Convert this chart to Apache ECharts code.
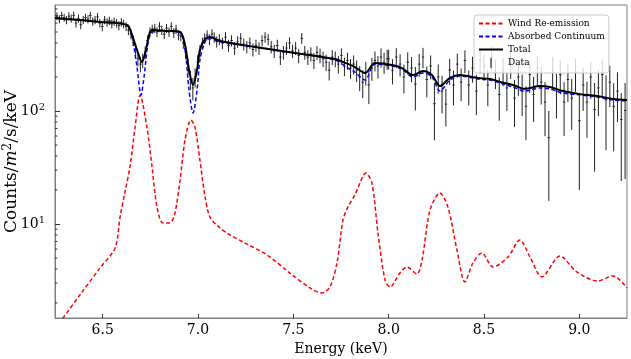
<!DOCTYPE html>
<html>
<head>
<meta charset="utf-8">
<script src="https://cdn.jsdelivr.net/npm/echarts@6/dist/echarts.min.js"></script>
<style>
html, body { margin: 0; padding: 0; background: #fff; }
#chart { width: 631px; height: 359px; }
</style>
</head>
<body>
<div id="chart"></div>
<script>
// tick values
var xTicks = [6.5, 7.0, 7.5, 8.0, 8.5, 9.0];
var yMinorTicks = [2, 3, 4, 5, 6, 7, 8, 9, 20, 30, 40, 50, 60, 70, 80, 90, 200, 300, 400, 500, 600, 700, 800];

// model curves [keV, counts/m2/s/keV]
var windCurve = [
    [6.25, 1.18], [6.292, 1.47], [6.381, 2.36], [6.486, 4.08], [6.565, 6.14], [6.591, 11.5], [6.617, 19.2],
    [6.643, 31.9], [6.670, 72.1], [6.696, 138], [6.732, 72], [6.759, 32], [6.785, 14.1], [6.816, 10.2],
    [6.853, 10.2], [6.879, 12.5], [6.906, 24.5], [6.932, 55.3], [6.963, 83.2], [6.984, 72], [7.010, 36.8],
    [7.037, 17.4], [7.063, 11.5], [7.115, 9.23], [7.168, 8.0], [7.236, 6.93], [7.362, 5.32], [7.482, 3.68],
    [7.587, 2.72], [7.650, 2.45], [7.692, 2.77], [7.729, 4.52], [7.760, 10.8], [7.786, 14.1], [7.823, 18.1],
    [7.881, 28.2], [7.912, 23.1], [7.944, 8.3], [7.981, 3.19], [8.007, 2.77], [8.059, 3.68], [8.096, 4.16],
    [8.148, 3.61], [8.175, 4.80], [8.217, 13.3], [8.269, 18.8], [8.311, 14.1], [8.358, 5.89], [8.400, 3.07],
    [8.442, 4.52], [8.489, 5.53], [8.547, 4.16], [8.626, 5.10], [8.688, 7.21], [8.741, 5.10], [8.804, 3.40],
    [8.898, 5.21], [8.987, 3.76], [9.097, 3.13], [9.176, 3.47], [9.250, 2.72]
];

var contCurve = [
    [6.25, 665], [6.381, 638], [6.486, 613], [6.628, 577], [6.654, 452], [6.680, 245], [6.701, 138],
    [6.717, 200], [6.738, 400], [6.759, 500], [6.827, 511], [6.906, 490], [6.932, 347], [6.953, 153],
    [6.974, 96], [6.995, 153], [7.010, 282], [7.037, 408], [7.063, 443], [7.115, 408], [7.335, 361],
    [7.509, 326], [7.718, 282], [7.786, 240], [7.823, 221], [7.876, 188], [7.928, 261], [8.017, 250],
    [8.070, 235], [8.127, 200], [8.180, 217], [8.227, 200], [8.269, 150], [8.321, 188], [8.374, 204],
    [8.468, 192], [8.531, 188], [8.584, 177], [8.652, 163], [8.715, 150], [8.793, 160], [8.846, 157],
    [8.914, 144], [9.003, 139], [9.092, 133], [9.176, 125], [9.250, 123]
];

var totalCurve = [
    [6.25, 665], [6.381, 638], [6.486, 613], [6.628, 577], [6.654, 471], [6.680, 347], [6.706, 272],
    [6.727, 347], [6.743, 471], [6.759, 521], [6.827, 511], [6.906, 500], [6.932, 384], [6.953, 231],
    [6.974, 170], [6.995, 231], [7.010, 347], [7.037, 433], [7.063, 452], [7.115, 416], [7.335, 361],
    [7.509, 326], [7.718, 288], [7.786, 261], [7.823, 245], [7.876, 217], [7.928, 266], [8.017, 255],
    [8.070, 240], [8.127, 208], [8.180, 226], [8.227, 208], [8.269, 166], [8.321, 196], [8.374, 208],
    [8.468, 196], [8.531, 192], [8.584, 181], [8.652, 170], [8.715, 157], [8.793, 166], [8.846, 163],
    [8.914, 150], [9.003, 141], [9.092, 136], [9.176, 128], [9.250, 125]
];

// observed spectrum [keV, flux, 1-sigma error]
var obsData = [
    [6.260, 690, 55], [6.273, 650, 54], [6.285, 700, 56], [6.298, 670, 55], [6.310, 640, 54],
    [6.323, 690, 56], [6.335, 660, 55], [6.348, 700, 56], [6.360, 600, 53], [6.373, 660, 55],
    [6.385, 580, 52], [6.398, 640, 54], [6.410, 670, 55], [6.423, 650, 54], [6.435, 700, 56],
    [6.448, 620, 53], [6.460, 640, 54], [6.473, 680, 55], [6.485, 600, 53], [6.498, 560, 52],
    [6.510, 640, 54], [6.523, 610, 53], [6.535, 630, 54], [6.548, 590, 52], [6.560, 620, 53],
    [6.573, 600, 53], [6.585, 570, 52], [6.598, 610, 53], [6.610, 590, 52], [6.623, 560, 51],
    [6.635, 520, 50], [6.648, 480, 48], [6.660, 420, 46], [6.673, 350, 44], [6.685, 290, 42],
    [6.698, 260, 40], [6.710, 280, 41], [6.723, 330, 43], [6.735, 420, 46], [6.748, 500, 49],
    [6.760, 530, 50], [6.773, 540, 50], [6.785, 500, 49], [6.798, 560, 51], [6.810, 520, 50],
    [6.823, 480, 48], [6.835, 540, 50], [6.848, 500, 49], [6.860, 560, 51], [6.873, 490, 49],
    [6.885, 530, 50], [6.898, 470, 48], [6.910, 460, 47], [6.923, 400, 45], [6.935, 330, 43],
    [6.948, 250, 40], [6.960, 190, 37], [6.973, 160, 36], [6.985, 200, 38], [6.998, 270, 41],
    [7.010, 340, 43], [7.023, 400, 45], [7.035, 440, 47], [7.048, 470, 48], [7.060, 430, 46],
    [7.073, 480, 48], [7.085, 450, 47], [7.098, 410, 46],
    [7.112, 430, 48], [7.128, 400, 47], [7.144, 450, 49], [7.160, 380, 46], [7.176, 420, 48],
    [7.192, 360, 46], [7.208, 410, 48], [7.224, 440, 49], [7.240, 390, 47], [7.256, 370, 46],
    [7.272, 400, 47], [7.288, 350, 46], [7.304, 380, 47], [7.320, 360, 46], [7.336, 420, 48],
    [7.352, 450, 48], [7.368, 430, 49], [7.384, 370, 47], [7.400, 340, 46], [7.416, 380, 47],
    [7.432, 300, 45], [7.448, 330, 46], [7.464, 360, 47], [7.480, 400, 48], [7.496, 340, 46],
    [7.512, 360, 47], [7.528, 310, 45], [7.544, 440, 48], [7.560, 330, 46], [7.576, 300, 45],
    [7.592, 320, 46], [7.608, 280, 45], [7.624, 330, 46], [7.640, 310, 46], [7.656, 290, 45],
    [7.672, 270, 45], [7.688, 230, 44], [7.704, 300, 46], [7.720, 290, 46], [7.736, 260, 46],
    [7.752, 310, 48], [7.768, 250, 47], [7.784, 280, 48], [7.800, 240, 48], [7.816, 260, 50],
    [7.832, 230, 50], [7.848, 200, 50], [7.864, 180, 50], [7.880, 220, 52], [7.896, 170, 55],
    [7.912, 240, 55], [7.928, 280, 56], [7.944, 250, 56], [7.960, 300, 58], [7.976, 270, 57],
    [7.992, 290, 58],
    [8.00, 290, 58], [8.02, 230, 58], [8.04, 300, 60], [8.06, 260, 58], [8.08, 200, 57],
    [8.10, 270, 60], [8.12, 240, 60], [8.14, 173, 72], [8.16, 260, 60], [8.18, 300, 62],
    [8.20, 190, 58], [8.22, 250, 60], [8.24, 116, 61], [8.26, 200, 58], [8.28, 150, 55],
    [8.30, 115, 42], [8.32, 230, 60], [8.34, 170, 58], [8.36, 260, 62], [8.38, 180, 58],
    [8.40, 280, 64], [8.42, 170, 58], [8.44, 240, 62], [8.46, 150, 58], [8.48, 280, 66],
    [8.50, 250, 64], [8.52, 170, 60], [8.54, 300, 68], [8.56, 220, 64], [8.58, 140, 58],
    [8.60, 230, 65], [8.62, 160, 60], [8.64, 260, 68], [8.66, 130, 58], [8.68, 200, 64],
    [8.70, 150, 60], [8.72, 110, 55], [8.74, 210, 66], [8.76, 140, 60], [8.78, 240, 70],
    [8.80, 180, 66], [8.82, 120, 60], [8.84, 58, 42], [8.86, 230, 70], [8.88, 150, 64],
    [8.90, 210, 70], [8.92, 120, 60], [8.94, 190, 70], [8.96, 130, 62], [8.98, 220, 72],
    [9.00, 82, 62], [9.02, 170, 70], [9.04, 120, 62], [9.06, 200, 72], [9.08, 103, 74],
    [9.10, 160, 70], [9.12, 210, 74], [9.14, 126, 81], [9.16, 180, 72], [9.18, 110, 66],
    [9.20, 150, 70], [9.22, 84, 60], [9.24, 101, 76]
];

var xMin = 6.25;
var xMax = 9.25;
var yMin = 1.472;
var yMax = 867;
var serif = 'DejaVu Serif';

var chart = echarts.init(document.getElementById('chart'));

function powLabel(v) {
    var e = Math.log(v) / Math.LN10;
    if (Math.abs(e - Math.round(e)) > 1e-6) {
        return '';
    }
    return '10{s|' + Math.round(e) + '}';
}

var option = {
    animation: false,
    backgroundColor: '#fff',
    grid: {
        left: 55, right: 4, top: 5, bottom: 41,
        show: true, borderColor: '#808080', borderWidth: 1,
        outerBoundsMode: 'none'
    },
    legend: {
        data: [
            { name: 'Wind Re-emission', itemStyle: { opacity: 0 } },
            { name: 'Absorbed Continuum', itemStyle: { opacity: 0 } },
            { name: 'Total', itemStyle: { opacity: 0 } },
            { name: 'Data', icon: 'path://M0,0h1v10h-1z' }
        ],
        orient: 'vertical',
        left: 474,
        top: 15,
        padding: [4, 4, 5, 4],
        itemGap: 4,
        itemWidth: 24,
        itemHeight: 10,
        backgroundColor: 'rgba(255,255,255,0.8)',
        borderColor: '#cccccc',
        borderWidth: 1,
        borderRadius: 3,
        textStyle: { fontFamily: serif, fontSize: 9, color: '#000' }
    },
    xAxis: {
        type: 'value',
        min: xMin,
        max: xMax,
        name: 'Energy (keV)',
        nameLocation: 'middle',
        nameGap: 22,
        nameTextStyle: { fontFamily: serif, fontSize: 14, color: '#000' },
        axisLine: { lineStyle: { color: '#808080' } },
        axisTick: { inside: true, length: 4, customValues: xTicks, lineStyle: { color: '#333' } },
        axisLabel: {
            customValues: xTicks,
            formatter: function(v) { return v.toFixed(1); },
            fontFamily: serif, fontSize: 14, color: '#000', margin: 5
        },
        splitLine: { show: false }
    },
    yAxis: {
        type: 'log',
        logBase: 10,
        min: yMin,
        max: yMax,
        name: 'Counts/{i|m}{s|2}/s/keV',
        nameLocation: 'middle',
        nameGap: 33,
        nameMoveOverlap: false,
        nameTextStyle: {
            fontFamily: serif, fontSize: 17, color: '#000',
            rich: {
                i: { fontFamily: serif, fontSize: 17, fontStyle: 'italic', color: '#000' },
                s: { fontFamily: serif, fontSize: 12, color: '#000', padding: [0, 0, 8, 0] }
            }
        },
        axisLine: { lineStyle: { color: '#808080' } },
        axisTick: { inside: true, length: 5, lineStyle: { color: '#333' } },
        axisLabel: {
            formatter: powLabel,
            showMinLabel: false,
            showMaxLabel: false,
            fontFamily: serif, fontSize: 14, color: '#000', margin: 10,
            rich: {
                s: { fontFamily: serif, fontSize: 10, color: '#000', padding: [0, 0, 7, 0] }
            }
        },
        splitLine: { show: false }
    },
    series: [
        {
            name: 'Data',
            type: 'custom',
            data: obsData,
            encode: { x: 0, y: 1 },
            itemStyle: { color: '#000' },
            z: 1,
            renderItem: function(params, api) {
                var e = api.value(0), v = api.value(1), err = api.value(2);
                var top = api.coord([e, v + err]);
                var bot = api.coord([e, v - err]);
                var mid = api.coord([e, v]);
                return {
                    type: 'group',
                    children: [
                        { type: 'line', shape: { x1: top[0], y1: top[1], x2: bot[0], y2: bot[1] },
                          style: { stroke: '#222', lineWidth: 1 } },
                        { type: 'line', shape: { x1: mid[0] - 1.2, y1: mid[1], x2: mid[0] + 1.2, y2: mid[1] },
                          style: { stroke: '#222', lineWidth: 1 } }
                    ]
                };
            }
        },
        {
            name: 'Wind Re-emission',
            type: 'line',
            data: windCurve,
            symbol: 'none',
            smooth: 0.3,
            z: 3,
            itemStyle: { color: '#ff0000' },
            lineStyle: { color: '#ff0000', width: 1.5, type: [4, 2.5] }
        },
        {
            name: 'Absorbed Continuum',
            type: 'line',
            data: contCurve,
            symbol: 'none',
            smooth: 0.3,
            z: 3,
            itemStyle: { color: '#0000ff' },
            lineStyle: { color: '#0000ff', width: 1.5, type: [4, 2.5] }
        },
        {
            name: 'Total',
            type: 'line',
            data: totalCurve,
            symbol: 'none',
            smooth: 0.3,
            z: 4,
            itemStyle: { color: '#000' },
            lineStyle: { color: '#000', width: 2 }
        },
        {
            // minor log ticks on the left axis
            name: 'minorTicks',
            type: 'custom',
            silent: true,
            z: 5,
            data: yMinorTicks.map(function(v) { return [xMin, v]; }),
            encode: { x: 0, y: 1 },
            renderItem: function(params, api) {
                var p = api.coord([xMin, api.value(1)]);
                return {
                    type: 'line',
                    shape: { x1: p[0], y1: p[1], x2: p[0] + 2.5, y2: p[1] },
                    style: { stroke: '#333', lineWidth: 1 }
                };
            }
        }
    ]
};

chart.setOption(option);
</script>
</body>
</html>
